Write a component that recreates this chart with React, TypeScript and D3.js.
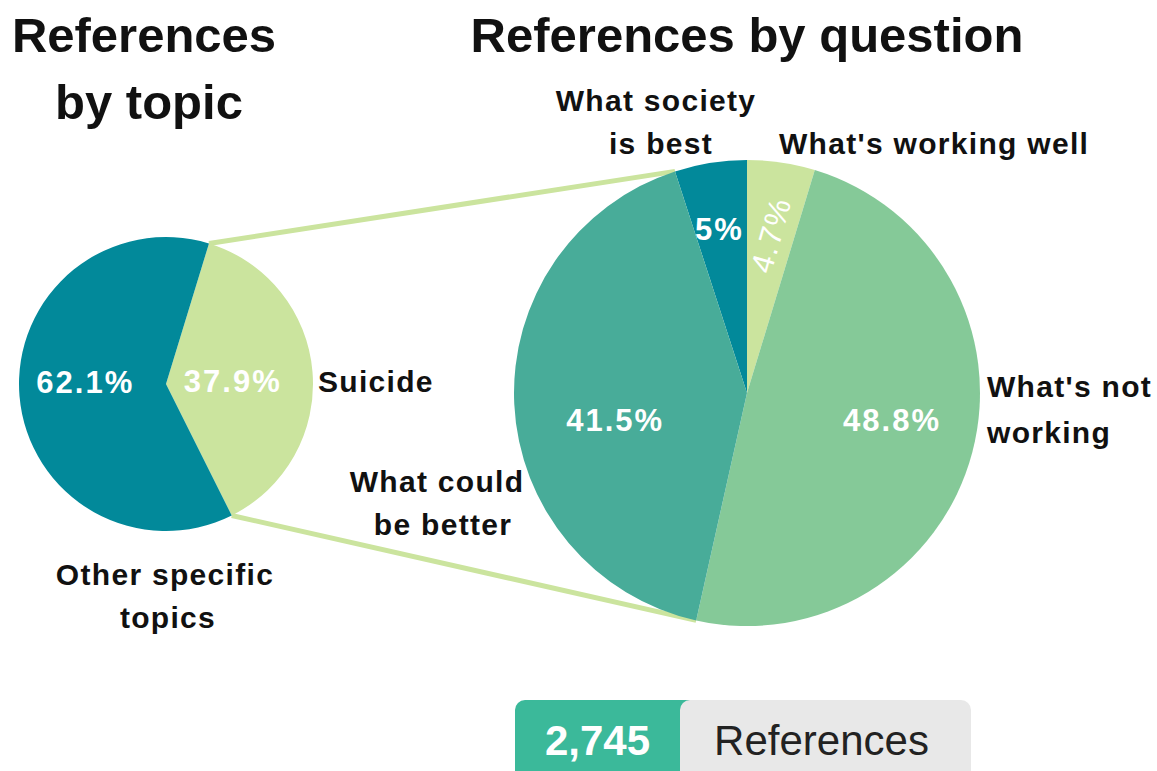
import React from "react";
import * as d3 from "d3";

const topicLabels = ["Suicide", "Other specific topics"];
const topicValues = [37.9, 62.1];
const topicColors = ["#cbe49e", "#02899a"];

const questionLabels = ["What society is best", "What's working well", "What's not working", "What could be better"];
const questionValues = [5, 4.7, 48.8, 41.5];
const questionColors = ["#02899a", "#cbe49e", "#85c998", "#48ac99"];

const totalReferences = 2745;

const FONT = "'Liberation Sans', Arial, Helvetica, sans-serif";
const deg = Math.PI / 180;

export default function App() {
  const W = 1157, H = 771;
  const L = { cx: 166, cy: 384, r: 147 };
  const R = { cx: 747, cy: 393, r: 233 };

  const leftPie = d3.pie<number>().sort(null).startAngle(17 * deg).endAngle(377 * deg)(topicValues);
  const rightPie = d3.pie<number>().sort(null).startAngle(-18 * deg).endAngle(342 * deg)(questionValues);

  const leftArc = d3.arc<d3.PieArcDatum<number>>().innerRadius(0).outerRadius(L.r);
  const rightArc = d3.arc<d3.PieArcDatum<number>>().innerRadius(0).outerRadius(R.r);

  const pt = (c: { cx: number; cy: number }, r: number, a: number) => [c.cx + r * Math.sin(a), c.cy - r * Math.cos(a)];

  // connector lines
  const lTop = pt(L, L.r, leftPie[0].startAngle);
  const lBot = pt(L, L.r, leftPie[0].endAngle);
  const rTop = pt(R, R.r, rightPie[0].startAngle);
  const rBot = pt(R, R.r, rightPie[3].startAngle);

  const fmtPct = (v: number) => `${v}%`;

  // percent label placement (radius, dx, dy) per slice
  const leftLabelPos = [
    { r: 67, dx: 0, dy: 14 },
    { r: 81, dx: 0, dy: 2 },
  ];
  const rightLabelPos = [
    { r: 176, dx: 0, dy: 10 },
    { r: 160, dx: 0, dy: 0 },
    { r: 150, dx: 0, dy: -11 },
    { r: 132, dx: 0, dy: 21 },
  ];

  const pctSize = 31;
  const labSize = 30;

  const badgeX = 515, badgeMid = 680, badgeEnd = 971, badgeY = 700, badgeH = 90;

  return (
    <svg width={W} height={H} style={{ position: "absolute", left: 0, top: 0, background: "#fff" }} fontFamily={FONT}>
      {/* titles */}
      <text x={144} y={52} textAnchor="middle" fontSize={49} fontWeight="bold" fill="#111">References</text>
      <text x={149} y={119} textAnchor="middle" fontSize={49} fontWeight="bold" fill="#111">by topic</text>
      <text x={747} y={52} textAnchor="middle" fontSize={49} fontWeight="bold" fill="#111">References by question</text>

      {/* connectors */}
      <line x1={lTop[0]} y1={lTop[1]} x2={rTop[0]} y2={rTop[1]} stroke="#cbe49e" strokeWidth={5} />
      <line x1={lBot[0]} y1={lBot[1]} x2={rBot[0]} y2={rBot[1]} stroke="#cbe49e" strokeWidth={5} />

      {/* left pie */}
      <g transform={`translate(${L.cx},${L.cy})`}>
        {leftPie.map((d, i) => (
          <path key={i} d={leftArc(d) || ""} fill={topicColors[i]} />
        ))}
        {leftPie.map((d, i) => {
          const a = (d.startAngle + d.endAngle) / 2;
          const p = leftLabelPos[i];
          return (
            <text key={"t" + i} x={p.r * Math.sin(a) + p.dx} y={-p.r * Math.cos(a) + p.dy} textAnchor="middle"
              fontSize={pctSize} fontWeight="bold" letterSpacing={2} fill="#fff">{fmtPct(topicValues[i])}</text>
          );
        })}
      </g>

      {/* right pie */}
      <g transform={`translate(${R.cx},${R.cy})`}>
        {rightPie.map((d, i) => (
          <path key={i} d={rightArc(d) || ""} fill={questionColors[i]} />
        ))}
        {rightPie.map((d, i) => {
          const a = (d.startAngle + d.endAngle) / 2;
          const p = rightLabelPos[i];
          const x = p.r * Math.sin(a) + p.dx;
          const y = -p.r * Math.cos(a) + p.dy;
          if (i === 1) {
            return (
              <text key={"t" + i} transform={`translate(${x},${y}) rotate(-74)`} textAnchor="middle" dy="0.36em"
                fontSize={pctSize} letterSpacing={1.5} fill="#fff">{fmtPct(questionValues[i])}</text>
            );
          }
          return (
            <text key={"t" + i} x={x} y={y} textAnchor="middle" dy="0.36em"
              fontSize={pctSize} fontWeight="bold" letterSpacing={2} fill="#fff">{fmtPct(questionValues[i])}</text>
          );
        })}
      </g>

      {/* category labels */}
      <g fontSize={labSize} fontWeight="bold" fill="#111" letterSpacing={1.3}>
        <text x={318} y={392}>{topicLabels[0]}</text>
        <text x={165} y={585} textAnchor="middle">Other specific</text>
        <text x={168} y={628} textAnchor="middle">topics</text>

        <text x={656} y={111} textAnchor="middle">What society</text>
        <text x={661} y={154} textAnchor="middle">is best</text>
        <text x={779} y={154}>{questionLabels[1]}</text>
        <text x={987} y={397}>What's not</text>
        <text x={987} y={443}>working</text>
        <text x={437} y={492} textAnchor="middle">What could</text>
        <text x={443} y={535} textAnchor="middle">be better</text>
      </g>

      {/* badge */}
      <rect x={badgeX} y={badgeY} width={badgeMid - badgeX + 20} height={badgeH} rx={10} fill="#3bb99a" />
      <rect x={badgeMid} y={badgeY} width={badgeEnd - badgeMid} height={badgeH} rx={10} fill="#e8e8e8" />
      <text x={(badgeX + badgeMid) / 2} y={755} textAnchor="middle" fontSize={42} fontWeight="bold" fill="#fff">
        {d3.format(",")(totalReferences)}
      </text>
      <text x={(badgeMid + badgeEnd) / 2 - 4} y={755} textAnchor="middle" fontSize={42} fill="#222">References</text>
    </svg>
  );
}
